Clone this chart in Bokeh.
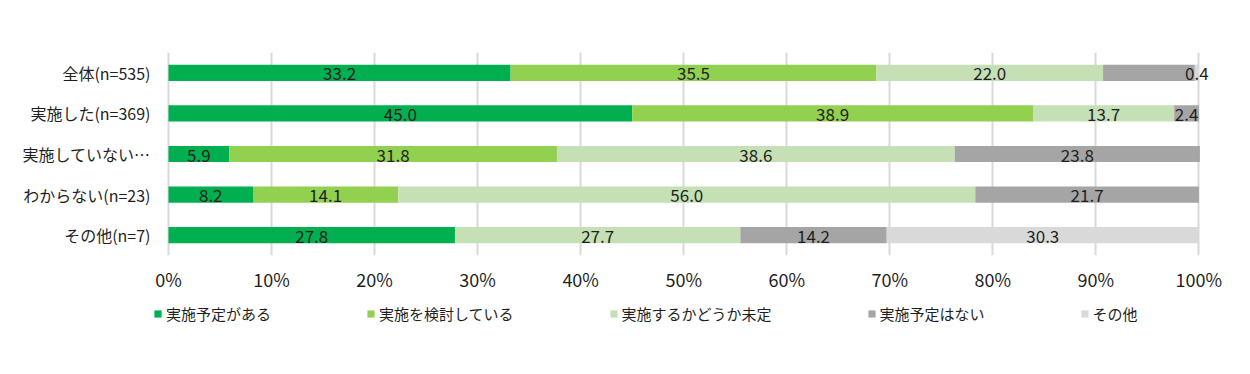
from bokeh.plotting import figure
from bokeh.layouts import column
from bokeh.models import (ColumnDataSource, Range1d, FactorRange, FixedTicker,
                          Legend, LegendItem, CustomJSTickFormatter)
from bokeh.core.properties import value
from bokeh.embed import file_html
from bokeh.resources import INLINE

categories = ["全体(n=535)", "実施した(n=369)", "実施していない…", "わからない(n=23)", "その他(n=7)"]
series_names = ["実施予定がある", "実施を検討している", "実施するかどうか未定", "実施予定はない", "その他"]
s1 = [33.2, 45.0, 5.9, 8.2, 27.8]
s2 = [35.5, 38.9, 31.8, 14.1, 0.0]
s3 = [22.0, 13.7, 38.6, 56.0, 27.7]
s4 = [8.9, 2.4, 23.8, 21.7, 14.2]
s5 = [0.4, 0.0, 0.0, 0.0, 30.3]
# which labels are shown (the 8.9 label for 全体 is not shown in the original)
show4 = [False, True, True, True, True]
colors = ["#00B050", "#92D050", "#C5E0B4", "#A5A5A5", "#D9D9D9"]
x_ticks = [0, 10, 20, 30, 40, 50, 60, 70, 80, 90, 100]

FONT = "Noto Sans CJK JP"
TXT = "#1f1f1f"

keys = ["s1", "s2", "s3", "s4", "s5"]
data = {"cat": categories, "s1": s1, "s2": s2, "s3": s3, "s4": s4, "s5": s5}
src = ColumnDataSource(data)

p = figure(width=1234, height=300, output_backend="svg", toolbar_location=None,
           y_range=FactorRange(*reversed(categories)), x_range=Range1d(-1.456, 102),
           min_border_left=153, min_border_right=15, min_border_top=52, min_border_bottom=45)
p.outline_line_color = None
p.background_fill_color = "white"
p.border_fill_color = "white"

renderers = p.hbar_stack(keys, y="cat", height=0.4, color=colors, source=src, line_color=None)

# data labels
lx, ly, lt = [], [], []
all_series = [s1, s2, s3, s4, s5]
shows = [[v > 0 for v in s1], [v > 0 for v in s2], [v > 0 for v in s3],
         [a and v > 0 for a, v in zip(show4, s4)], [v > 0 for v in s5]]
for i, c in enumerate(categories):
    left = 0.0
    for k, ser in enumerate(all_series):
        v = ser[i]
        if shows[k][i]:
            lx.append(left + v / 2)
            ly.append(c)
            lt.append(f"{v:.1f}")
        left += v
lsrc = ColumnDataSource(dict(x=lx, y=ly, t=lt))
p.text(x="x", y="y", text="t", source=lsrc, text_align="center", text_baseline="middle",
       text_font=value(FONT), text_font_size="17px", text_color=TXT, y_offset=1)

# axes
p.xaxis.ticker = FixedTicker(ticks=x_ticks)
p.xaxis.formatter = CustomJSTickFormatter(code="return tick.toFixed(0) + '%';")
p.xaxis.axis_line_color = None
p.xaxis.major_tick_line_color = None
p.xaxis.minor_tick_line_color = None
p.xaxis.major_tick_out = 0
p.xaxis.major_tick_in = 0
p.xaxis.major_label_standoff = 10
p.xaxis.major_label_text_font = FONT
p.xaxis.major_label_text_font_size = "18px"
p.xaxis.major_label_text_color = TXT

p.yaxis.axis_line_color = None
p.yaxis.major_tick_line_color = None
p.yaxis.minor_tick_line_color = None
p.yaxis.major_tick_out = 0
p.yaxis.major_tick_in = 0
p.yaxis.major_label_standoff = 3
p.yaxis.major_label_text_font = FONT
p.yaxis.major_label_text_font_size = "16px"
p.yaxis.major_label_text_color = TXT

p.xgrid.grid_line_color = "#D9D9D9"
p.xgrid.grid_line_width = 2
p.ygrid.grid_line_color = None

# legend strip as a separate small figure (frame aligned with the main plot)
p2 = figure(width=1234, height=44, output_backend="svg", toolbar_location=None,
            x_range=Range1d(0, 1), y_range=Range1d(0, 1),
            x_axis_location=None, y_axis_location=None,
            min_border_left=153, min_border_right=15, min_border_top=0, min_border_bottom=0)
p2.outline_line_color = None
p2.xgrid.grid_line_color = None
p2.ygrid.grid_line_color = None
p2.background_fill_color = "white"
p2.border_fill_color = "white"
dummy = ColumnDataSource(dict(x=[-5.0], y=[-5.0]))
leg_renderers = [p2.rect(x="x", y="y", width=0.1, height=0.1, source=dummy, fill_color=c, line_color=None)
                 for c in colors]
legend = Legend(items=[LegendItem(label=n, renderers=[r]) for n, r in zip(series_names, leg_renderers)],
                orientation="horizontal", location=(0, 20), padding=0, margin=0,
                spacing=95, glyph_width=9, glyph_height=9, label_standoff=4, label_height=18,
                label_text_font=FONT, label_text_font_size="15px", label_text_color=TXT,
                border_line_color=None, background_fill_alpha=0)
p2.add_layout(legend)

open("out.html", "w").write(file_html(column(p, p2, spacing=0), INLINE))
